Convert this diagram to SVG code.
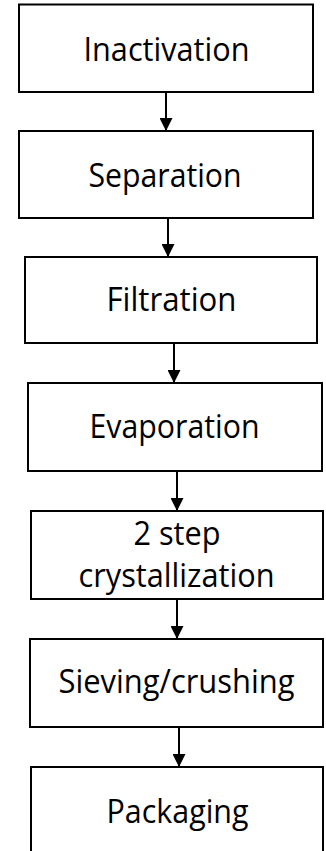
<svg xmlns="http://www.w3.org/2000/svg" width="326" height="851" viewBox="0 0 326 851">
<style>
.box{fill:#fff;stroke:#000;stroke-width:2}
.lbl{font-family:"Open Sans","Noto Sans","Liberation Sans",sans-serif;font-size:32px;fill:#000;text-anchor:middle}
.conn{stroke:#000;stroke-width:2;fill:none;marker-end:url(#ah)}
</style>
<defs>
<marker id="ah" markerUnits="userSpaceOnUse" markerWidth="13" markerHeight="13" refX="13" refY="6.5" orient="auto" viewBox="0 0 13 13">
<path d="M0,0 L13,6.5 L0,13 Z" fill="#000"/>
</marker>
</defs>
<rect width="326" height="851" fill="#fff"/>
<g id="n1">
<rect class="box" x="19" y="4.5" width="294" height="87.5"/>
<text class="lbl" x="166.5" y="61" textLength="166" lengthAdjust="spacingAndGlyphs">Inactivation</text>
</g>
<g id="n2">
<rect class="box" x="19" y="131" width="294" height="87"/>
<text class="lbl" x="165" y="187" textLength="153" lengthAdjust="spacingAndGlyphs">Separation</text>
</g>
<g id="n3">
<rect class="box" x="25" y="257" width="292" height="86"/>
<text class="lbl" x="171.5" y="311" textLength="130" lengthAdjust="spacingAndGlyphs">Filtration</text>
</g>
<g id="n4">
<rect class="box" x="28" y="383" width="294" height="88"/>
<text class="lbl" x="174.5" y="438" textLength="170" lengthAdjust="spacingAndGlyphs">Evaporation</text>
</g>
<g id="n5">
<rect class="box" x="31" y="511" width="292" height="88"/>
<text class="lbl" x="177" y="545" textLength="87" lengthAdjust="spacingAndGlyphs">2 step</text>
<text class="lbl" x="176.5" y="587" textLength="196" lengthAdjust="spacingAndGlyphs">crystallization</text>
</g>
<g id="n6">
<rect class="box" x="30" y="639" width="293" height="88"/>
<text class="lbl" x="176.5" y="693" textLength="236" lengthAdjust="spacingAndGlyphs">Sieving/crushing</text>
</g>
<g id="n7">
<rect class="box" x="31" y="767" width="292" height="90"/>
<text class="lbl" x="177.5" y="823" textLength="142" lengthAdjust="spacingAndGlyphs">Packaging</text>
</g>
<g id="connectors">
<line class="conn" x1="166" y1="92" x2="166" y2="131"/>
<line class="conn" x1="168" y1="218" x2="168" y2="257"/>
<line class="conn" x1="174" y1="343" x2="174" y2="383"/>
<line class="conn" x1="177" y1="471" x2="177" y2="511"/>
<line class="conn" x1="177" y1="599" x2="177" y2="639"/>
<line class="conn" x1="179" y1="727" x2="179" y2="767"/>
</g>
</svg>
